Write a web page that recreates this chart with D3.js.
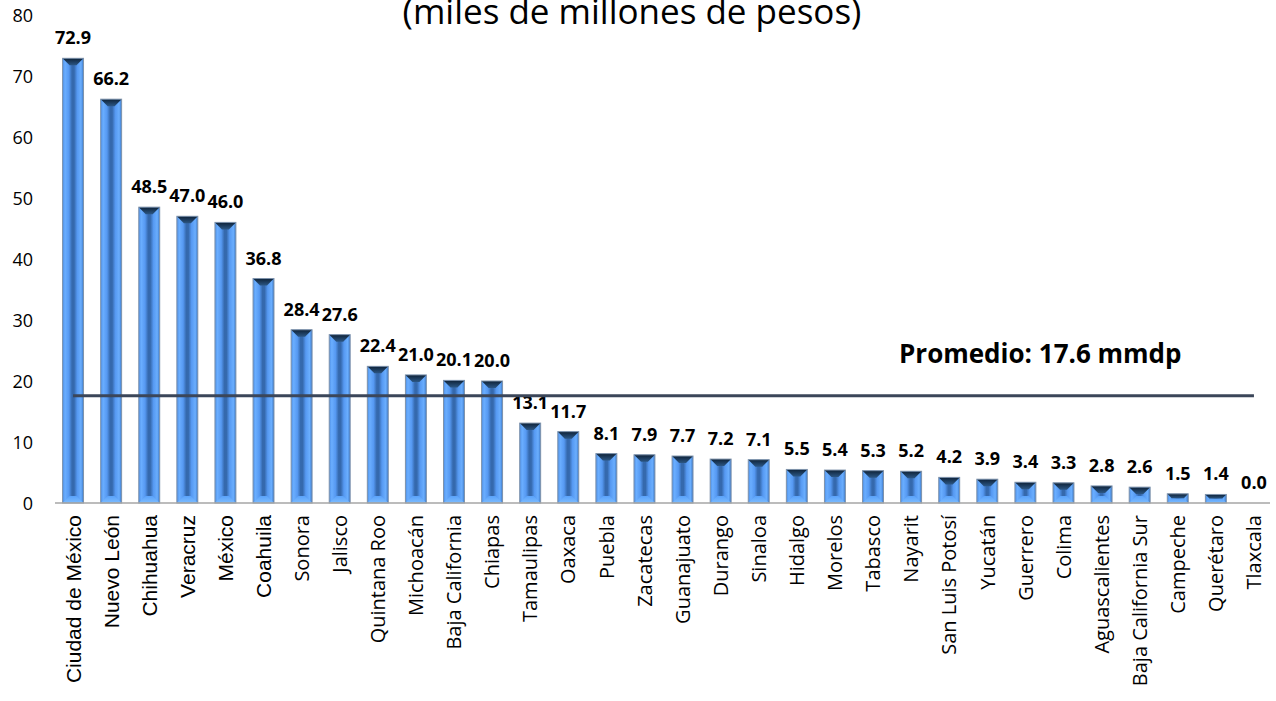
<!DOCTYPE html>
<html>
<head>
<meta charset="utf-8">
<script src="https://cdn.jsdelivr.net/npm/d3@7"></script>
<style>
  html, body { margin: 0; padding: 0; background: #ffffff; }
  svg { display: block; }
</style>
</head>
<body>
<svg id="chart" width="1276" height="701"></svg>
<script>
const categories = ["Ciudad de México","Nuevo León","Chihuahua","Veracruz","México","Coahuila","Sonora","Jalisco","Quintana Roo","Michoacán","Baja California","Chiapas","Tamaulipas","Oaxaca","Puebla","Zacatecas","Guanajuato","Durango","Sinaloa","Hidalgo","Morelos","Tabasco","Nayarit","San Luis Potosí","Yucatán","Guerrero","Colima","Aguascalientes","Baja California Sur","Campeche","Querétaro","Tlaxcala"];
const values = [72.9,66.2,48.5,47.0,46.0,36.8,28.4,27.6,22.4,21.0,20.1,20.0,13.1,11.7,8.1,7.9,7.7,7.2,7.1,5.5,5.4,5.3,5.2,4.2,3.9,3.4,3.3,2.8,2.6,1.5,1.4,0.0];
const yTicks = [0,10,20,30,40,50,60,70,80];
const promedio = 17.6;
const promedioLabel = "Promedio: 17.6 mmdp";
const subtitle = "(miles de millones de pesos)";
const arialLabelCount = 6;

const svg = d3.select("#chart");
const defs = svg.append("defs");

const bodyGrad = defs.append("linearGradient").attr("id","barBody").attr("x1","0").attr("x2","1").attr("y1","0").attr("y2","0");
[["0%","#4d8fe6"],["12%","#6aaeff"],["30%","#5699f2"],["45%","#3569ad"],["55%","#3569ad"],["70%","#5699f2"],["88%","#6aaefe"],["100%","#3b78c8"]]
  .forEach(s => bodyGrad.append("stop").attr("offset", s[0]).attr("stop-color", s[1]));

const topGrad = defs.append("linearGradient").attr("id","barTop").attr("x1","0").attr("x2","0").attr("y1","0").attr("y2","1");
[["0%","#0e2238"],["100%","#2c5785"]].forEach(s => topGrad.append("stop").attr("offset", s[0]).attr("stop-color", s[1]));

const botGrad = defs.append("linearGradient").attr("id","barBot").attr("x1","0").attr("x2","0").attr("y1","0").attr("y2","1");
[["0%","#5aa2fa"],["100%","#7cbcff"]].forEach(s => botGrad.append("stop").attr("offset", s[0]).attr("stop-color", s[1]));

const x = d3.scaleBand().domain(categories).range([54, 1273]).paddingInner(0.45).paddingOuter(0.225);
const y = d3.scaleLinear().domain([0, 80]).range([503, 15]);

// subtitle (partially cut at top, as in the reference)
svg.append("text")
  .attr("x", 632).attr("y", 24)
  .attr("text-anchor", "middle")
  .style("font-family", "'Open Sans', sans-serif")
  .style("font-size", "35px")
  .attr("fill", "#000")
  .text(subtitle);

// y axis
const yAxis = d3.axisLeft(y).tickValues(yTicks).tickSize(0).tickPadding(0).tickFormat(d3.format("d"));
const gy = svg.append("g").attr("transform", "translate(33,1)").call(yAxis);
gy.select(".domain").remove();
gy.selectAll("text").style("font-family", "'Open Sans', sans-serif").style("font-size", "18px").attr("fill", "#000");

// bars
const bars = svg.append("g").selectAll("g.bar").data(categories).join("g").attr("class","bar");
bars.each(function(c, i) {
  const v = values[i];
  if (v <= 0) return;
  const g = d3.select(this);
  const x0 = x(c), x1 = x(c) + x.bandwidth();
  const y0 = y(v), y1 = y(0);
  const h = y1 - y0;
  const b = Math.min(7, h / 2);
  g.append("rect").attr("x", x0).attr("y", y0).attr("width", x1 - x0).attr("height", h)
    .attr("fill", "url(#barBody)");
  g.append("polygon")
    .attr("points", [[x0,y0],[x1,y0],[x1-b,y0+b],[x0+b,y0+b]].map(p => p.join(",")).join(" "))
    .attr("fill", "url(#barTop)");
  g.append("polygon")
    .attr("points", [[x0,y1],[x1,y1],[x1-b,y1-b],[x0+b,y1-b]].map(p => p.join(",")).join(" "))
    .attr("fill", "url(#barBot)");
  g.append("rect").attr("x", x0).attr("y", y0).attr("width", x1 - x0).attr("height", h)
    .attr("fill", "none").attr("stroke", "#7f93ab").attr("stroke-width", 1);
});

// value labels
svg.append("g").selectAll("text").data(categories).join("text")
  .attr("x", c => x(c) + x.bandwidth() / 2)
  .attr("y", (c, i) => y(values[i]) - 14)
  .attr("text-anchor", "middle")
  .style("font-family", "'Open Sans', sans-serif")
  .style("font-weight", "bold")
  .style("font-size", "18px")
  .attr("fill", "#000")
  .text((c, i) => values[i].toFixed(1));

// baseline
svg.append("line")
  .attr("x1", 55).attr("x2", 1270)
  .attr("y1", y(0)).attr("y2", y(0))
  .attr("stroke", "#a6a6a6").attr("stroke-width", 1.5);

// x axis labels
const xAxis = d3.axisBottom(x).tickSize(0).tickPadding(0);
const gx = svg.append("g").attr("transform", `translate(0,${y(0)})`).call(xAxis);
gx.select(".domain").remove();
gx.selectAll("text")
  .attr("transform", "rotate(-90)")
  .attr("x", -12).attr("y", 0).attr("dy", "0.36em")
  .style("text-anchor", "end")
  .style("font-family", (d, i) => i < arialLabelCount ? "'Liberation Sans', Arial, sans-serif" : "'Open Sans', sans-serif")
  .style("font-size", (d, i) => i < arialLabelCount ? "21px" : "20px")
  .attr("fill", "#000");

// promedio line
const first = categories[0], last = categories[categories.length - 1];
svg.append("line")
  .attr("x1", x(first) + x.bandwidth() / 2)
  .attr("x2", x(last) + x.bandwidth() / 2)
  .attr("y1", y(promedio)).attr("y2", y(promedio))
  .attr("stroke", "#3b4659").attr("stroke-width", 3);

svg.append("text")
  .attr("x", 899).attr("y", 363)
  .style("font-family", "'Open Sans', sans-serif")
  .style("font-weight", "bold")
  .style("font-size", "26px")
  .attr("fill", "#000")
  .text(promedioLabel);
</script>
</body>
</html>
